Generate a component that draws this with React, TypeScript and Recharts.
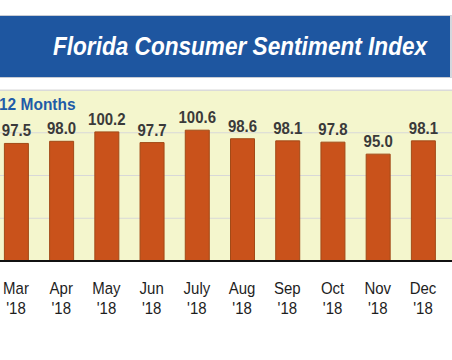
import { BarChart, Bar, XAxis, YAxis, CartesianGrid, LabelList } from "recharts";

const months = ["Mar", "Apr", "May", "Jun", "July", "Aug", "Sep", "Oct", "Nov", "Dec"];
const years = ["'18", "'18", "'18", "'18", "'18", "'18", "'18", "'18", "'18", "'18"];
const values = [97.5, 98.0, 100.2, 97.7, 100.6, 98.6, 98.1, 97.8, 95.0, 98.1];
const yTicks = [70, 80, 90, 100, 110];

const title = "Florida Consumer Sentiment Index";
const subtitle = "12 Months";

const data = months.map((m, i) => ({ month: m, year: years[i], value: values[i] }));

const FONT = "'Liberation Sans', Arial, Helvetica, sans-serif";

function MonthTick(props: any) {
  const { x, y, payload, index } = props;
  return (
    <g>
      <text
        transform={`translate(${x},${y + 31}) scale(1,1.15)`}
        textAnchor="middle"
        fontFamily={FONT}
        fontSize={15}
        fill="#1e1e1e"
      >
        {payload.value}
      </text>
      <text
        transform={`translate(${x},${y + 51}) scale(1,1.15)`}
        textAnchor="middle"
        fontFamily={FONT}
        fontSize={15}
        fill="#1e1e1e"
      >
        {years[index]}
      </text>
    </g>
  );
}

function ValueLabel(props: any) {
  const { x, y, width, value } = props;
  return (
    <text
      transform={`translate(${x + width / 2},${y - 7}) scale(1,1.1)`}
      textAnchor="middle"
      fontFamily={FONT}
      fontSize={15}
      fontWeight="bold"
      fill="#3a3a3a"
    >
      {Number(value).toFixed(1)}
    </text>
  );
}

export default function App() {
  return (
    <div
      style={{
        position: "absolute",
        left: 0,
        top: 0,
        width: 452,
        height: 360,
        overflow: "hidden",
        background: "#fff",
      }}
    >
      {/* banner */}
      <div
        style={{
          position: "absolute",
          left: 0,
          top: 15,
          width: 450,
          height: 61,
          background: "#1e56a0",
          borderTop: "1px solid #c8ccd4",
          borderBottom: "1px solid #c8ccd4",
          borderRight: "2px solid #d4d8de",
        }}
      />
      {/* plot panel */}
      <div
        style={{
          position: "absolute",
          left: 0,
          top: 90,
          width: 452,
          height: 171,
          background: "#f4f6cd",
          borderTop: "1px solid #dcdcdc",
        }}
      />

      <div style={{ position: "absolute", left: -20, top: 0 }}>
        <BarChart
          width={490}
          height={321}
          data={data}
          margin={{ top: 90, right: 0, left: 0, bottom: 0 }}
          barSize={24}
        >
          <CartesianGrid vertical={false} stroke="#d8d8d8" />
          <YAxis hide type="number" domain={[70, 110]} ticks={yTicks} allowDataOverflow />
          <XAxis
            dataKey="month"
            height={60}
            padding={{ left: 13.4, right: 24.4 }}
            axisLine={{ stroke: "#111", strokeWidth: 2 }}
            tickLine={false}
            tickSize={0}
            tick={<MonthTick />}
            interval={0}
          />
          <Bar dataKey="value" fill="#c9521b" stroke="#a24a17" strokeWidth={1} isAnimationActive={false}>
            <LabelList dataKey="value" content={<ValueLabel />} />
          </Bar>
        </BarChart>
      </div>

      <svg width={452} height={360} style={{ position: "absolute", left: 0, top: 0 }}>
        <text
          transform="translate(53,55) scale(1,1.12)"
          fontFamily={FONT}
          fontSize={22.6}
          fontWeight="bold"
          fontStyle="italic"
          fill="#ffffff"
        >
          {title}
        </text>
        <text
          transform="translate(-1,110) scale(1,1.1)"
          fontFamily={FONT}
          fontSize={15.5}
          fontWeight="bold"
          fill="#1f5ca8"
        >
          {subtitle}
        </text>
      </svg>
    </div>
  );
}
